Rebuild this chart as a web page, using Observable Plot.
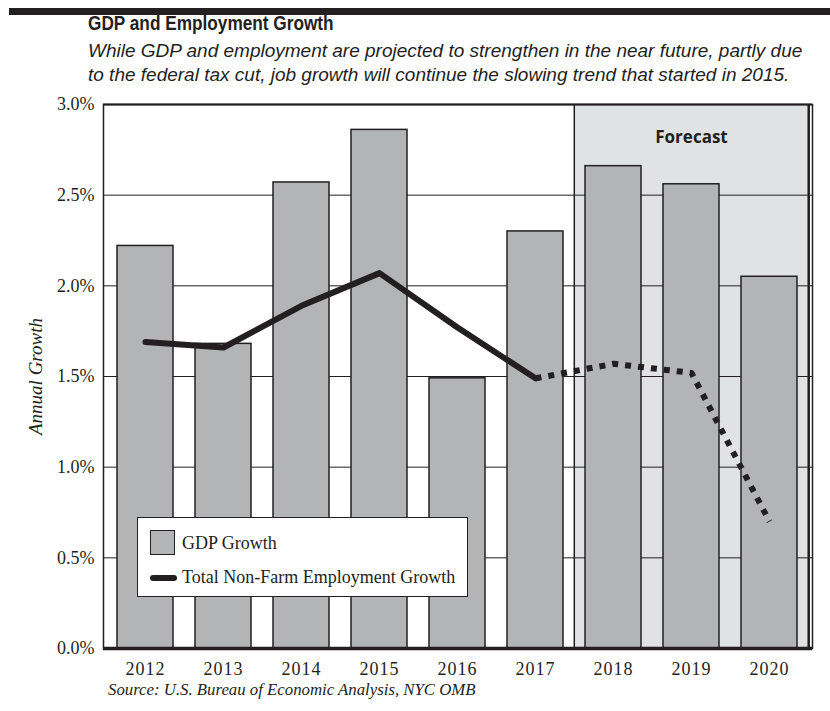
<!DOCTYPE html>
<html>
<head>
<meta charset="utf-8">
<script src="https://cdn.jsdelivr.net/npm/d3@7"></script>
<script src="https://cdn.jsdelivr.net/npm/@observablehq/plot@0.6"></script>
<style>
  html, body { margin: 0; padding: 0; background: #fff; }
  #wrap { position: relative; width: 830px; height: 711px; overflow: hidden; background: #fff; color: #231f20; }
  #topbar { position: absolute; left: 9px; top: 8px; width: 821px; height: 7px; background: #231f20; }
  #title { position: absolute; left: 88px; top: 11px; font: bold 20.5px/24px "Liberation Sans", Arial, sans-serif; white-space: nowrap; transform: scaleX(0.84); transform-origin: 0 0; }
  #subtitle { position: absolute; left: 88px; top: 39px; font: italic 19px/24px "Liberation Sans", Arial, sans-serif; white-space: nowrap; }
  #chart { position: absolute; left: 0; top: 90px; }
  #caption { position: absolute; left: 108px; top: 680px; font: italic 16.8px/20px "Liberation Serif", "Times New Roman", serif; white-space: nowrap; }
  #legend { position: absolute; left: 137px; top: 517px; width: 331px; height: 80px; box-sizing: border-box; border: 1.5px solid #231f20; background: #fff; font: 18px/22px "Liberation Serif", "Times New Roman", serif; }
  .sw-bar { position: absolute; left: 12px; top: 12px; width: 25px; height: 25px; box-sizing: border-box; border: 1.5px solid #231f20; background: #b3b4b6; }
  .sw-line { position: absolute; left: 12px; top: 57px; width: 27px; height: 6px; border-radius: 3px; background: #231f20; }
  .lg-text { position: absolute; left: 44px; white-space: nowrap; }
  g[aria-label="x-axis tick label"] text { letter-spacing: 1px; }
</style>
</head>
<body>
<div id="wrap">
  <div id="topbar"></div>
  <div id="title">GDP and Employment Growth</div>
  <div id="subtitle">While GDP and employment are projected to strengthen in the near future, partly due<br>to the federal tax cut, job growth will continue the slowing trend that started in 2015.</div>
  <div id="chart"></div>
  <div id="legend">
    <div class="sw-bar"></div><div class="lg-text" style="top:14px">GDP Growth</div>
    <div class="sw-line"></div><div class="lg-text" style="top:48px">Total Non-Farm Employment Growth</div>
  </div>
  <div id="caption">Source: U.S. Bureau of Economic Analysis, NYC OMB</div>
</div>
<script>
// ---- data ----
const years = ["2012", "2013", "2014", "2015", "2016", "2017", "2018", "2019", "2020"];
const gdpGrowth = [2.22, 1.68, 2.57, 2.86, 1.49, 2.30, 2.66, 2.56, 2.05];
const employmentGrowth = [1.69, 1.66, 1.89, 2.07, 1.77, 1.49, 1.57, 1.52, 0.70];
const forecastYears = ["2018", "2019", "2020"];
const yTicks = [0, 0.5, 1.0, 1.5, 2.0, 2.5, 3.0];
const gridTicks = [0.5, 1.0, 1.5, 2.0, 2.5];
const forecastLabel = "Forecast";
const yLabel = "Annual Growth";

const rows = years.map((year, i) => ({year, gdp: gdpGrowth[i], emp: employmentGrowth[i]}));
const firstForecast = years.indexOf(forecastYears[0]);
const actualRows = rows.slice(0, firstForecast);
const forecastRows = rows.slice(firstForecast - 1);

// ---- layout ----
const W = 830, H = 590, ML = 103, MR = 18, MT = 14, MB = 32;
const padInner = 0.28, padOuter = 0.16;
const step = (W - ML - MR) / (years.length - padInner + 2 * padOuter);
const halfGap = step * padInner / 2;
const ink = "#231f20";

const chart = Plot.plot({
  width: W,
  height: H,
  marginLeft: ML,
  marginRight: MR,
  marginTop: MT,
  marginBottom: MB,
  style: {fontFamily: "'Liberation Serif', 'Times New Roman', serif", fontSize: "18px", color: ink, background: "transparent"},
  x: {type: "band", domain: years, paddingInner: padInner, paddingOuter: padOuter, align: 0.5},
  y: {domain: [0, 3]},
  marks: [
    // forecast shaded region
    Plot.barY(forecastYears, {x: d => d, y1: 0, y2: 3, fill: "#e1e2e4", insetLeft: -halfGap, insetRight: -halfGap}),
    // gridlines
    Plot.ruleY(gridTicks, {stroke: ink, strokeWidth: 1}),
    // forecast divider
    Plot.ruleX([forecastYears[0]], {y1: 0, y2: 3, dx: -step / 2, stroke: ink, strokeWidth: 1.5}),
    // bars
    Plot.barY(rows, {x: "year", y: "gdp", fill: "#b3b4b6", stroke: ink, strokeWidth: 1.5}),
    // employment lines
    Plot.line(actualRows, {x: "year", y: "emp", stroke: ink, strokeWidth: 6, strokeLinecap: "round", strokeLinejoin: "round"}),
    Plot.line(forecastRows, {x: "year", y: "emp", stroke: ink, strokeWidth: 6, strokeDasharray: "6,7", strokeLinecap: "butt", strokeLinejoin: "round"}),
    // frame
    Plot.frame({stroke: ink, strokeWidth: 1.5}),
    Plot.ruleY([3], {stroke: ink, strokeWidth: 2}),
    Plot.ruleX([years[years.length - 1]], {y1: 0, y2: 3, dx: step / 2, stroke: ink, strokeWidth: 2.5}),
    Plot.ruleY([0], {stroke: ink, strokeWidth: 3.5}),
    // forecast label
    Plot.text([forecastYears[1]], {x: d => d, text: () => forecastLabel, frameAnchor: "top", dy: 33,
      fontFamily: "'Open Sans', sans-serif", fontWeight: 700, fontSize: 17, fill: ink, lineAnchor: "middle"}),
    // axes
    Plot.axisX({tickSize: 0, tickPadding: 14, fontSize: 18, fill: ink, label: null}),
    Plot.axisY({ticks: yTicks, tickFormat: d => d.toFixed(1) + "%", tickSize: 0, tickPadding: 9, fontSize: 18, fill: ink, label: null}),
    // y label
    Plot.text([yLabel], {frameAnchor: "left", rotate: -90, dx: -68, textAnchor: "middle", fontStyle: "italic", fontSize: 19, fill: ink, lineAnchor: "middle"})
  ]
});
document.getElementById("chart").appendChild(chart);
</script>
</body>
</html>
